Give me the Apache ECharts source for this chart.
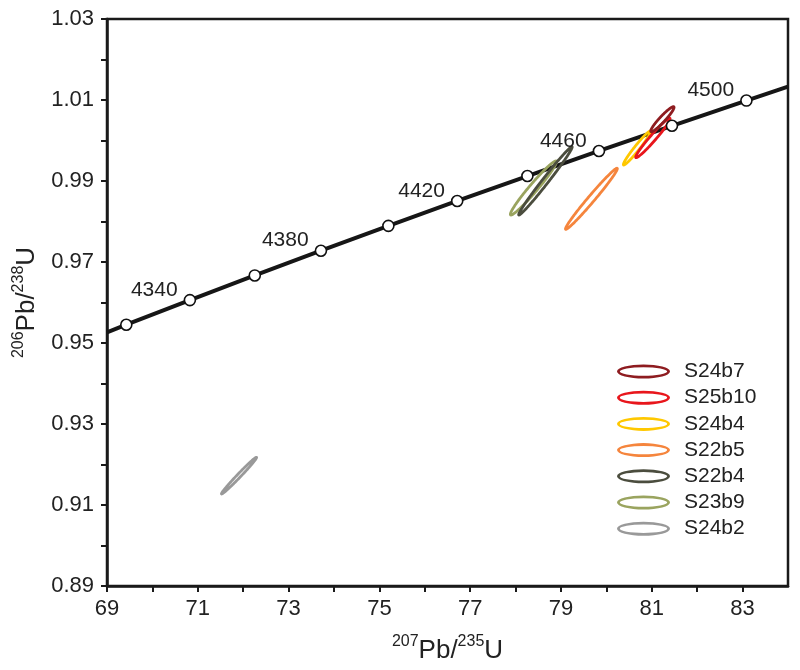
<!DOCTYPE html>
<html>
<head>
<meta charset="utf-8">
<script src="https://cdn.jsdelivr.net/npm/echarts@6/dist/echarts.min.js"></script>
<style>html,body{margin:0;padding:0;background:#fff}#c{width:800px;height:670px}</style>
</head>
<body>
<div id="c"></div>
<script>
// ---- data ----
const sampleNames = ['S24b7', 'S25b10', 'S24b4', 'S22b5', 'S22b4', 'S23b9', 'S24b2'];
const ellipseCenterX = [81.233, 81.024, 80.675, 79.670, 78.657, 78.393, 71.908];
const ellipseCenterY = [1.00526, 1.00062, 0.99815, 0.98561, 0.99003, 0.98827, 0.91725];
const ellipseHalfX = [0.257, 0.379, 0.301, 0.571, 0.589, 0.508, 0.387];
const ellipseHalfY = [0.00309, 0.00487, 0.00420, 0.00754, 0.00843, 0.00667, 0.00453];
const ellipseRho = [0.946, 0.973, 0.972, 0.9864, 0.9898, 0.973, 0.990];

const concordiaAges = [4320, 4340, 4360, 4380, 4400, 4420, 4440, 4460, 4480, 4500];
const concordiaX = [69.425, 70.826, 72.255, 73.712, 75.198, 76.714, 78.260, 79.836, 81.444, 83.084];
const concordiaY = [0.95451, 0.96059, 0.96668, 0.97279, 0.97892, 0.98507, 0.99123, 0.99742, 1.00363, 1.00986];
const concordiaLineX = [69.000, 69.425, 70.826, 72.255, 73.712, 75.198, 76.714, 78.260, 79.836, 81.444, 83.084, 84.000];
const concordiaLineY = [0.95264, 0.95451, 0.96059, 0.96668, 0.97279, 0.97892, 0.98507, 0.99123, 0.99742, 1.00363, 1.00986, 1.01329];
const labeledAges = [4340, 4380, 4420, 4460, 4500];

const xTickLabels = ['69', '71', '73', '75', '77', '79', '81', '83'];
const yTickLabels = ['0.89', '0.91', '0.93', '0.95', '0.97', '0.99', '1.01', '1.03'];

// ---- styles ----
const sampleColors = ['#8e1c20', '#e8161c', '#ffc800', '#f5853d', '#4b4d3e', '#9aa45f', '#999999'];
const FONT = '"Liberation Sans", Arial, Helvetica, sans-serif';
const AX = '#1a1a1a';
const ringIcon = 'path://M0,7 A26.5,7 0 1 1 53,7 A26.5,7 0 1 1 0,7 Z M2.8,7 A23.7,4.2 0 1 0 50.2,7 A23.7,4.2 0 1 0 2.8,7 Z';

function ellipseRender(color) {
  return function (params, api) {
    const cx = api.value(0), cy = api.value(1), a = api.value(2), b = api.value(3), rho = api.value(4);
    const d = Math.acos(rho);
    const pts = [];
    const n = 240;
    for (let i = 0; i < n; i++) {
      const t = i / n * 2 * Math.PI;
      pts.push(api.coord([cx + a * Math.cos(t), cy + b * Math.cos(t + d)]));
    }
    return {
      type: 'polygon',
      shape: { points: pts },
      style: { fill: 'none', stroke: color, lineWidth: 2.8 }
    };
  };
}

const drawOrder = [6, 5, 4, 3, 2, 1, 0];
const ellipseSeries = drawOrder.map(i => ({
  type: 'custom',
  name: sampleNames[i],
  renderItem: ellipseRender(sampleColors[i]),
  data: [[ellipseCenterX[i], ellipseCenterY[i], ellipseHalfX[i], ellipseHalfY[i], ellipseRho[i]]],
  encode: { x: 0, y: 1 },
  itemStyle: { color: sampleColors[i] },
  z: 3,
  silent: true
}));

const concordiaPoints = concordiaAges.map((age, i) => {
  const item = { value: [concordiaX[i], concordiaY[i], age] };
  if (labeledAges.indexOf(age) >= 0) item.label = { show: true };
  return item;
});

const option = {
  animation: false,
  backgroundColor: '#fff',
  grid: { left: 107, right: 12, top: 19, bottom: 84, show: true, borderColor: AX, borderWidth: 2.5, backgroundColor: 'transparent' },
  legend: {
    orient: 'vertical',
    left: 617,
    top: 361,
    padding: 0,
    itemWidth: 53,
    itemHeight: 14,
    itemGap: 5.2,
    data: sampleNames.map((n, i) => ({ name: n, icon: ringIcon, itemStyle: { color: sampleColors[i] } })),
    textStyle: { fontFamily: FONT, fontSize: 21, color: '#222', lineHeight: 21, padding: [0, 0, 0, 9] },
    selectedMode: false
  },
  xAxis: {
    type: 'value',
    min: 69, max: 84, interval: 1,
    splitLine: { show: false },
    axisLine: { show: true, lineStyle: { color: AX, width: 2.5 } },
    axisTick: { show: true, length: 6, lineStyle: { color: AX, width: 2 } },
    axisLabel: {
      margin: 12,
      fontFamily: FONT, fontSize: 22, color: '#222',
      showMaxLabel: false,
      formatter: v => { const s = String(Math.round(v)); return xTickLabels.indexOf(s) >= 0 ? s : ''; }
    },
    name: '{sup|207}{main|Pb/}{sup|235}{main|U}',
    nameLocation: 'middle',
    nameGap: 48,
    nameTextStyle: {
      fontFamily: FONT, color: '#222',
      rich: {
        main: { fontFamily: FONT, fontSize: 26, color: '#222', verticalAlign: 'bottom', lineHeight: 30 },
        sup: { fontFamily: FONT, fontSize: 16, color: '#222', verticalAlign: 'top', lineHeight: 30 }
      }
    }
  },
  yAxis: {
    type: 'value',
    min: 0.89, max: 1.03, interval: 0.01,
    splitLine: { show: false },
    axisLine: { show: true, lineStyle: { color: AX, width: 2.5 } },
    axisTick: { show: true, length: 6, lineStyle: { color: AX, width: 2 } },
    axisLabel: {
      margin: 13,
      fontFamily: FONT, fontSize: 22, color: '#222',
      formatter: v => { const s = (Math.round(v * 100) / 100).toFixed(2); return yTickLabels.indexOf(s) >= 0 ? s : ''; }
    },
    name: '{sup|206}{main|Pb/}{sup|238}{main|U}',
    nameLocation: 'middle',
    nameRotate: 90,
    nameGap: 64,
    nameTextStyle: {
      fontFamily: FONT, color: '#222',
      rich: {
        main: { fontFamily: FONT, fontSize: 26, color: '#222', verticalAlign: 'bottom', lineHeight: 30 },
        sup: { fontFamily: FONT, fontSize: 16, color: '#222', verticalAlign: 'top', lineHeight: 30 }
      }
    }
  },
  series: [
    {
      type: 'line',
      name: 'concordia',
      data: concordiaLineX.map((x, i) => [x, concordiaLineY[i]]),
      showSymbol: false,
      symbol: 'none',
      lineStyle: { color: '#161616', width: 4 },
      z: 2,
      silent: true
    },
    ...ellipseSeries,
    {
      type: 'scatter',
      name: 'ages',
      data: concordiaPoints,
      symbol: 'circle',
      symbolSize: 11,
      itemStyle: { color: '#fff', borderColor: '#111', borderWidth: 1.6, opacity: 1 },
      label: {
        show: false,
        position: 'left',
        distance: 6,
        offset: [0, -10],
        formatter: p => String(p.value[2]),
        fontFamily: FONT, fontSize: 21, color: '#222'
      },
      z: 5,
      silent: true
    }
  ]
};

const chart = echarts.init(document.getElementById('c'));
chart.setOption(option);
</script>
</body>
</html>
